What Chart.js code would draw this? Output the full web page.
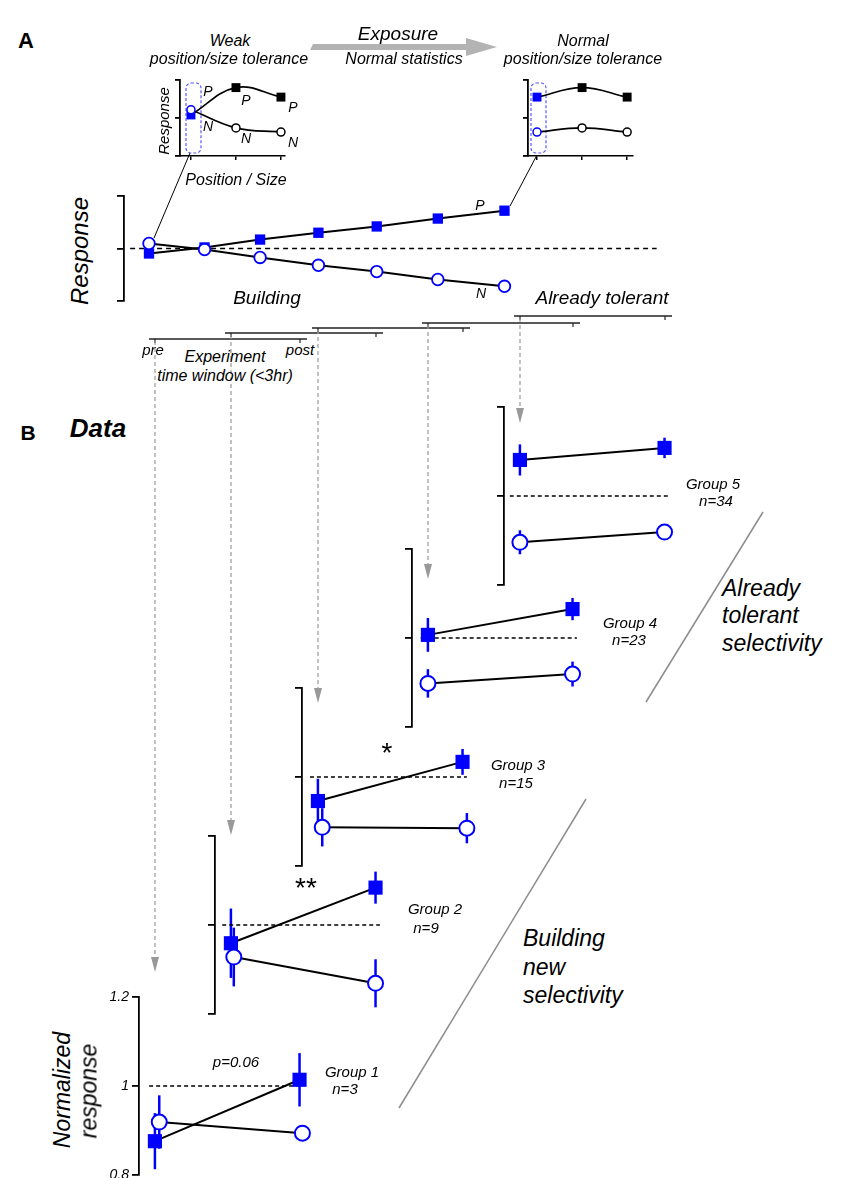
<!DOCTYPE html>
<html>
<head>
<meta charset="utf-8">
<script src="https://cdn.jsdelivr.net/npm/chart.js@4.4.1/dist/chart.umd.min.js"></script>
<style>
html, body { margin: 0; padding: 0; background: #fff; }
#page { position: relative; width: 849px; height: 1178px; overflow: hidden; font-family: "Liberation Sans", Arial, sans-serif; }
#page canvas { position: absolute; }
#deco { position: absolute; left: 0; top: 0; }
.t { position: absolute; white-space: nowrap; line-height: 1; color: #000; }
</style>
</head>
<body>
<div id="page"><svg id="deco" width="849" height="1178"></svg></div>
<script>
// ---- data ----
const sessions = ['pre', 'post'];
const groupLabels = ['Group 1', 'Group 2', 'Group 3', 'Group 4', 'Group 5'];
const groupN = [3, 9, 15, 23, 34];
const prefPre = [0.876, 0.959, 0.946, 1.007, 1.081];
const prefPreErr = [0.063, 0.078, 0.05, 0.038, 0.035];
const prefPost = [1.014, 1.084, 1.034, 1.065, 1.108];
const prefPostErr = [0.06, 0.036, 0.029, 0.025, 0.023];
const nonPre = [0.919, 0.928, 0.887, 0.898, 0.896];
const nonPreErr = [0.06, 0.066, 0.043, 0.032, 0.027];
const nonPost = [0.894, 0.869, 0.885, 0.919, 0.919];
const nonPostErr = [0.012, 0.054, 0.034, 0.028, 0.012];
const normTicks = [0.8, 1, 1.2];

// schematic, panel A
const stepT = [0, 1, 2, 3.05, 4.1, 5.2, 6.4];
const schemP = [-0.095, 0.02, 0.17, 0.30, 0.42, 0.57, 0.72];
const schemN = [0.095, -0.02, -0.17, -0.32, -0.44, -0.59, -0.72];
const posSize = [0, 1, 2];
const weakP = [0.08, 0.8, 0.55];
const weakN = [0.22, -0.26, -0.37];
const normalP = [0.55, 0.8, 0.55];
const normalN = [-0.37, -0.26, -0.37];

// ---- layout ----
const BLUE = '#0000ff';
const FONT = '"Liberation Sans", Arial, sans-serif';
const page = document.getElementById('page');
const groupBox = [
    { left: 139, top: 997 },
    { left: 215, top: 836 },
    { left: 302, top: 688 },
    { left: 412, top: 549 },
    { left: 504, top: 407 },
];
const G_W = 175, G_H = 178;
const jitterN = [[0.03, 1.02], [0.02, 1], [0.03, 1.03], [0, 1], [0, 1]];
const dashSpan = [[-0.04, 1.0], [-0.06, 1.03], [-0.055, 1.03], [-0.05, 1.03], [-0.07, 1.03]];
const timelineY = [339, 333, 328, 323, 316];
const arrowTip = [972, 835, 703, 579, 423];

const pts = (xs, ys) => xs.map((x, i) => ({ x: x, y: ys[i] }));

// error bars drawn under the markers, using the chart's own scales
const errorBars = {
    id: 'errorBars',
    beforeDatasetsDraw(chart) {
        const { ctx, scales: { x, y } } = chart;
        chart.data.datasets.forEach(ds => {
            if (!ds.errors) return;
            ctx.save();
            ctx.strokeStyle = BLUE;
            ctx.lineWidth = 2.5;
            ds.data.forEach((p, i) => {
                const e = ds.errors[i];
                if (!e) return;
                const px = x.getPixelForValue(p.x);
                ctx.beginPath();
                ctx.moveTo(px, y.getPixelForValue(p.y - e));
                ctx.lineTo(px, y.getPixelForValue(p.y + e));
                ctx.stroke();
            });
            ctx.restore();
        });
    }
};

function makeChart(opt) {
    const pad = { left: 4, right: 16, top: 16, bottom: 16 };
    const axisW = opt.axisW;
    const axisH = opt.showX ? 5 : 0;
    const cv = document.createElement('canvas');
    const W = Math.round(opt.w + pad.left + axisW + pad.right);
    const H = Math.round(opt.h + pad.top + pad.bottom + axisH);
    cv.width = W;
    cv.height = H;
    cv.style.width = W + 'px';
    cv.style.height = H + 'px';
    cv.style.left = (opt.left - pad.left - axisW) + 'px';
    cv.style.top = (opt.top - pad.top) + 'px';
    page.appendChild(cv);

    opt.datasets.forEach(ds => {
        ds.clip = false;
        ds.fill = false;
        ds.tension = opt.tension || 0;
        if (ds.borderColor === undefined) ds.borderColor = '#000';
    });

    const chart = new Chart(cv, {
        type: 'line',
        data: { datasets: opt.datasets },
        options: {
            responsive: false,
            animation: false,
            devicePixelRatio: 1,
            events: [],
            layout: { padding: pad },
            plugins: { legend: { display: false }, tooltip: { enabled: false } },
            scales: {
                x: {
                    type: 'linear',
                    min: opt.xMin,
                    max: opt.xMax,
                    display: !!opt.showX,
                    afterBuildTicks: s => { if (opt.xTicks) s.ticks = opt.xTicks.map(v => ({ value: v })); },
                    afterFit: s => { s.height = axisH; },
                    ticks: { display: false },
                    grid: { display: true, drawOnChartArea: false, drawTicks: true, tickLength: 4, color: '#000', lineWidth: 1.5 },
                    border: { display: true, color: '#000', width: 1.5 },
                },
                y: {
                    type: 'linear',
                    min: opt.yMin,
                    max: opt.yMax,
                    afterBuildTicks: s => { s.ticks = opt.yTicks.map(v => ({ value: v })); },
                    afterFit: s => { s.width = axisW; },
                    ticks: {
                        display: !!opt.showTickLabels,
                        padding: 3,
                        color: '#000',
                        font: { family: FONT, size: 14, style: 'italic' },
                        callback: v => (v === 1 ? '1' : v.toFixed(1)),
                    },
                    grid: { display: true, drawOnChartArea: false, drawTicks: true, tickLength: opt.tickLength, color: '#000', lineWidth: 1.8 },
                    border: { display: true, color: '#000', width: 1.8 },
                }
            }
        },
        plugins: [errorBars]
    });
    chart.offsetLeft = opt.left - pad.left - axisW;
    return chart;
}

// ---- panel B: one small chart per group ----
const groupCharts = groupBox.map((b, i) => makeChart({
    left: b.left, top: b.top, w: G_W, h: G_H,
    xMin: -0.11, xMax: 1.1, yMin: 0.8, yMax: 1.2, yTicks: normTicks,
    axisW: i === 0 ? 40 : 8, tickLength: 7, showTickLabels: i === 0,
    datasets: [
        {
            label: 'N', data: pts(jitterN[i], [nonPre[i], nonPost[i]]),
            errors: [nonPreErr[i], nonPostErr[i]],
            borderWidth: 2, pointStyle: 'circle', pointRadius: 7.5, pointBorderWidth: 2,
            pointBorderColor: BLUE, pointBackgroundColor: '#fff',
        },
        {
            label: 'P', data: pts([0, 1], [prefPre[i], prefPost[i]]),
            errors: [prefPreErr[i], prefPostErr[i]],
            borderWidth: 2, pointStyle: 'rect', pointRadius: 10, pointBorderWidth: 0,
            pointBorderColor: BLUE, pointBackgroundColor: BLUE,
        },
        {
            label: 'baseline', data: pts(dashSpan[i], [1, 1]),
            borderWidth: 1.3, borderDash: [4, 3], pointRadius: 0,
        }
    ]
}));

// ---- panel A: schematic ----
makeChart({
    left: 124, top: 196, w: 536, h: 105,
    xMin: -0.45, xMax: 9.2, yMin: -1, yMax: 1, yTicks: [-1, 0, 1],
    axisW: 8, tickLength: 7,
    datasets: [
        {
            data: pts(stepT, schemN), borderWidth: 2, pointStyle: 'circle', pointRadius: 5.8,
            pointBorderWidth: 1.8, pointBorderColor: BLUE, pointBackgroundColor: '#fff',
        },
        {
            data: pts(stepT, schemP), borderWidth: 2, pointStyle: 'rect', pointRadius: 7.3,
            pointBorderWidth: 0, pointBackgroundColor: BLUE, pointBorderColor: BLUE,
        },
        { data: pts([-0.34, 9.14], [0, 0]), borderWidth: 1.5, borderDash: [5, 4], pointRadius: 0 }
    ]
});

const insetSets = (pVals, nVals, pColors, nColors) => [
    {
        data: pts(posSize, nVals), borderWidth: 1.6, pointStyle: 'circle', pointRadius: 4,
        pointBorderWidth: 1.5, pointBorderColor: nColors, pointBackgroundColor: '#fff',
    },
    {
        data: pts(posSize, pVals), borderWidth: 1.6, pointStyle: 'rect', pointRadius: 6.3,
        pointBorderWidth: 0, pointBackgroundColor: pColors, pointBorderColor: pColors,
    }
];

makeChart({
    left: 180, top: 80, w: 105, h: 76,
    xMin: -0.244, xMax: 2.09, yMin: -1, yMax: 1, yTicks: [-1, 0, 1],
    axisW: 6, tickLength: 5, showX: true, xTicks: posSize, tension: 0.4,
    datasets: insetSets(weakP, weakN, [BLUE, '#000', '#000'], [BLUE, '#000', '#000'])
});

makeChart({
    left: 528, top: 80, w: 105, h: 76,
    xMin: -0.2, xMax: 2.13, yMin: -1, yMax: 1, yTicks: [-1, 0, 1],
    axisW: 6, tickLength: 5, showX: true, xTicks: posSize, tension: 0.4,
    datasets: insetSets(normalP, normalN, [BLUE, '#000', '#000'], [BLUE, '#000', '#000'])
});

// ---- decorations (arrows, timeline, leader lines) ----
const line = (x1, y1, x2, y2, c, w, dash) =>
    `<line x1="${x1}" y1="${y1}" x2="${x2}" y2="${y2}" stroke="${c}" stroke-width="${w}"${dash ? ` stroke-dasharray="${dash}"` : ''}/>`;

let svg = '';
svg += '<polygon points="310,50 313,44 466,44 466,38 497,47 466,56 466,50" fill="#b3b3b3"/>';
svg += line(190, 153, 154, 238, '#000', 1);
svg += line(537, 155, 510, 206, '#000', 1);
svg += '<rect x="186" y="83" width="15" height="70" rx="5" fill="none" stroke="#5a5aff" stroke-width="1.2" stroke-dasharray="3,2"/>';
svg += '<rect x="531" y="83" width="15" height="70" rx="5" fill="none" stroke="#5a5aff" stroke-width="1.2" stroke-dasharray="3,2"/>';

groupCharts.forEach((ch, i) => {
    const x0 = Math.round(ch.scales.x.getPixelForValue(0) + ch.offsetLeft);
    const x1 = Math.round(ch.scales.x.getPixelForValue(1) + ch.offsetLeft);
    const y = timelineY[i];
    const tip = arrowTip[i];
    svg += line(x0 - 6, y, x1 + 7, y, '#222', 1.6);
    svg += line(x0, y, x0, y + 4, '#222', 1.2);
    svg += line(x1, y, x1, y + 4, '#222', 1.2);
    svg += line(x0, y + 2, x0, tip - 14, '#999', 1.2, '4,3');
    svg += `<polygon points="${x0 - 4},${tip - 15} ${x0 + 4},${tip - 15} ${x0},${tip}" fill="#999"/>`;
});

svg += line(763, 512, 646, 702, '#8c8c8c', 1.5);
svg += line(586, 799, 399, 1108, '#8c8c8c', 1.5);
document.getElementById('deco').innerHTML = svg;

// ---- text ----
function text(str, x, y, size, o) {
    o = o || {};
    const d = document.createElement('div');
    d.className = 't';
    d.textContent = str;
    d.style.left = x + 'px';
    d.style.top = y + 'px';
    d.style.fontSize = size + 'px';
    d.style.fontStyle = o.upright ? 'normal' : 'italic';
    if (o.bold) d.style.fontWeight = 'bold';
    let tr = o.left ? 'translate(0,-50%)' : 'translate(-50%,-50%)';
    if (o.rotate) tr += ' rotate(-90deg)';
    d.style.transform = tr;
    page.appendChild(d);
}

text('A', 26, 41, 22, { bold: true, upright: true });
text('B', 28, 432, 21, { bold: true, upright: true });
text('Data', 98, 428, 26, { bold: true });

text('Weak', 230, 41, 16);
text('position/size tolerance', 229, 59, 16);
text('Exposure', 398, 33, 19);
text('Normal statistics', 404, 59, 16);
text('Normal', 583, 41, 16);
text('position/size tolerance', 583, 59, 16);
text('Response', 163, 121, 15, { rotate: true });
text('Position / Size', 236, 180, 16);
[[208, 91, 'P'], [246, 100, 'P'], [293, 107, 'P'], [208, 126, 'N'], [246, 138, 'N'], [293, 142, 'N']]
    .forEach(p => text(p[2], p[0], p[1], 14));

text('Response', 80, 251, 24, { rotate: true });
text('P', 480, 205, 14);
text('N', 481, 293, 14);
text('Building', 267, 297, 19);
text('Already tolerant', 602, 297, 19);
text(sessions[0], 153, 349, 15);
text(sessions[1], 300, 349, 15);
text('Experiment', 225, 357, 16);
text('time window (<3hr)', 225, 376, 16);

const groupLabelPos = [[352, 1071, 345, 1088], [435, 908, 426, 927], [518, 764, 516, 782], [630, 622, 629, 639], [713, 483, 716, 500]];
groupLabels.forEach((g, i) => {
    const p = groupLabelPos[i];
    text(g, p[0], p[1], 15);
    text('n=' + groupN[i], p[2], p[3], 15);
});
text('p=0.06', 236, 1061, 15);
text('**', 306, 888, 28, { upright: true });
text('*', 387, 753, 28, { upright: true });

text('Normalized', 62, 1090, 23, { rotate: true });
text('response', 89, 1091, 23, { rotate: true });

['Already', 'tolerant', 'selectivity'].forEach((w, i) => text(w, 722, [588, 615, 643][i], 23, { left: true }));
['Building', 'new', 'selectivity'].forEach((w, i) => text(w, 523, [938, 967, 995][i], 23, { left: true }));
</script>
</body>
</html>
